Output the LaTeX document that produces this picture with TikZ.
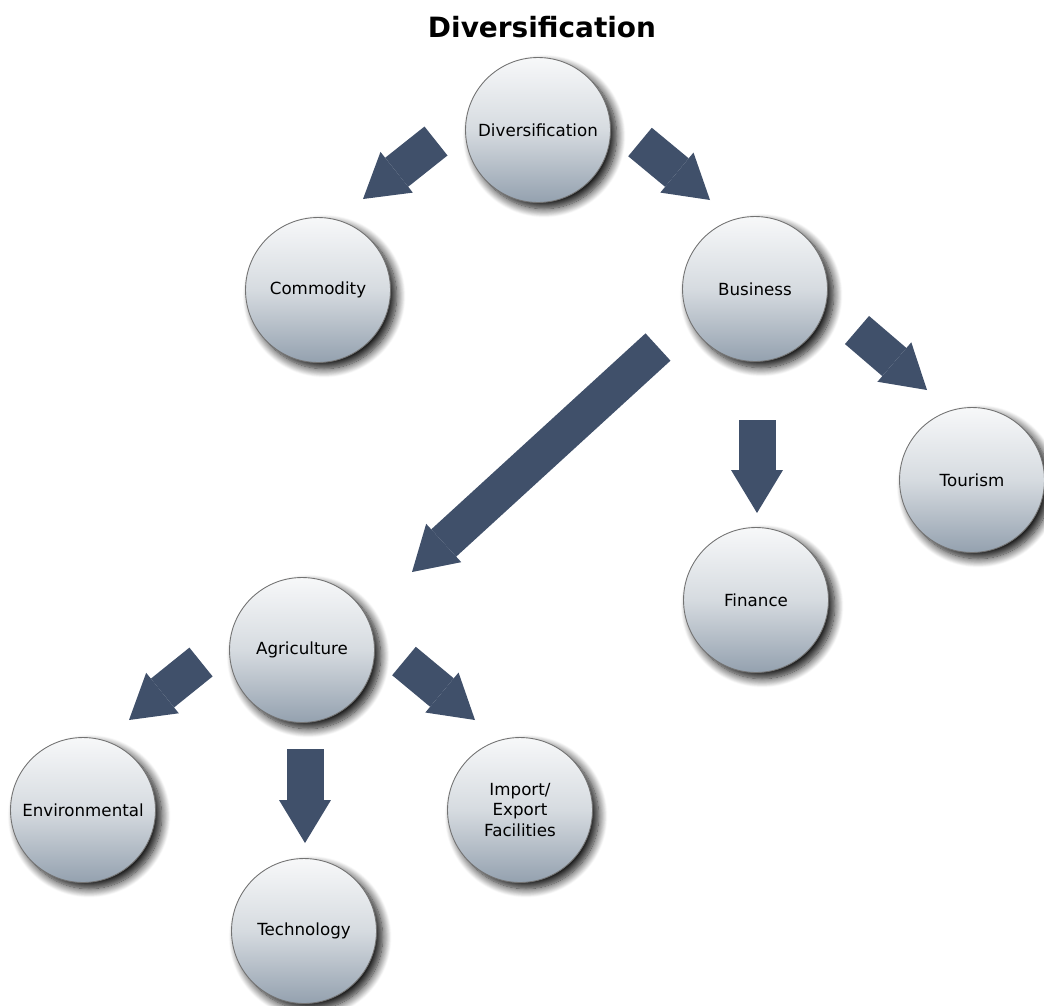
\documentclass[tikz,border=0pt]{standalone}
\usepackage{fontspec}
\setmainfont{DejaVu Sans}
\usepackage{tikz}
\usetikzlibrary{arrows.meta,shadows.blur}

\definecolor{arrowblue}{RGB}{64,80,106}
\definecolor{balltop}{RGB}{247,248,249}
\definecolor{ballmid}{RGB}{214,219,224}
\definecolor{ballbot}{RGB}{148,161,175}

\begin{document}
\begin{tikzpicture}[x=0.02cm, y=-0.02cm,
  ball/.style={circle, draw=black!55, line width=0.5pt, minimum size=2.9cm, inner sep=0pt, align=center, font=\fontsize{9.5}{11.6}\selectfont, top color=balltop, bottom color=ballbot, middle color=ballmid, blur shadow={shadow xshift=3.5pt, shadow yshift=-3.5pt, shadow blur radius=5pt, shadow blur steps=12, shadow opacity=95}},
  block arrow/.style={color=arrowblue, line width=0.74cm, -{Triangle[width=1.04cm, length=0.86cm, line width=0pt, round=false]}}]

  \useasboundingbox (0,0) rectangle (1044,1005);

  % Title
  \node[font=\fontsize{15.9}{18}\selectfont\bfseries] (title) at (542,27) {Diversification};

  % Define nodes
  \node[ball] (div) at (538,130) {Diversification};
  \node[ball] (com) at (318,290) {Commodity};
  \node[ball] (bus) at (755,289) {Business};
  \node[ball] (tou) at (972,480) {Tourism};
  \node[ball] (fin) at (756,600) {Finance};
  \node[ball] (agr) at (302,650) {Agriculture};
  \node[ball] (env) at (83,810) {Environmental};
  \node[ball] (tec) at (304,931) {Technology};
  \node[ball] (imp) at (520,810) {Import/\\Export\\Facilities};

  % Arrow ends
  \coordinate (div-com) at (436,141);
  \coordinate (com-in) at (363,199);
  \coordinate (div-bus) at (640,142);
  \coordinate (bus-in) at (710,200);
  \coordinate (bus-agr) at (658,347);
  \coordinate (agr-in) at (412,572);
  \coordinate (bus-fin) at (757,420);
  \coordinate (fin-in) at (757,513);
  \coordinate (bus-tou) at (857,330);
  \coordinate (tou-in) at (927,390);
  \coordinate (agr-env) at (201,662);
  \coordinate (env-in) at (129,720);
  \coordinate (agr-tec) at (305,749);
  \coordinate (tec-in) at (305,843);
  \coordinate (agr-imp) at (404,661);
  \coordinate (imp-in) at (475,720);

  % Define arrows
  \draw[block arrow] (div-com) -- (com-in);
  \draw[block arrow] (div-bus) -- (bus-in);
  \draw[block arrow] (bus-agr) -- (agr-in);
  \draw[block arrow] (bus-fin) -- (fin-in);
  \draw[block arrow] (bus-tou) -- (tou-in);
  \draw[block arrow] (agr-env) -- (env-in);
  \draw[block arrow] (agr-tec) -- (tec-in);
  \draw[block arrow] (agr-imp) -- (imp-in);
\end{tikzpicture}
\end{document}
